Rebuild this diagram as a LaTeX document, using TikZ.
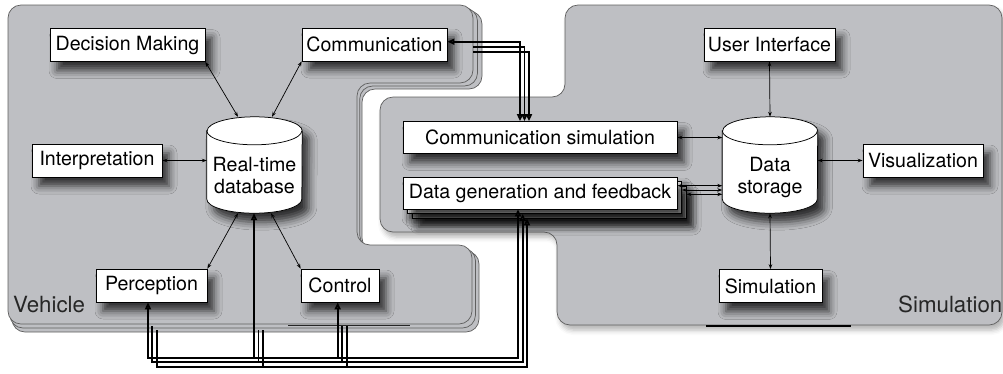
\documentclass[tikz,border=0pt]{standalone}
\usepackage{fontspec}
\setmainfont{TeX Gyre Heros}
\usetikzlibrary{arrows.meta,shadows.blur,calc}
\definecolor{regfill}{RGB}{190,191,195}
\definecolor{regline}{RGB}{95,95,95}
\newcommand\boxfont{\fontsize{19.6}{21.7}\selectfont}
\newcommand\labfont{\fontsize{22.3}{26}\selectfont}
\tikzset{
  region/.style={fill=regfill, draw=regline, line width=0.7pt, rounded corners=13pt},
  boxshadow/.style={blur shadow={shadow xshift=7pt, shadow yshift=-9pt, shadow blur radius=8pt, shadow opacity=75}},
  box/.style={draw=black, line width=0.75pt, fill=white, minimum height=33pt, inner sep=0pt,
    font=\boxfont, boxshadow},
  cylbody/.style={minimum width=95pt, minimum height=96pt, inner sep=0pt},
  cyltext/.style={font=\boxfont, align=center, inner sep=0pt},
  cylshape/.style={fill=white, draw=black, line width=0.75pt, boxshadow},
  link/.style={line width=0.7pt, {Stealth[length=5pt,width=3.6pt]}-{Stealth[length=5pt,width=3.6pt]}},
  bus/.style={line width=1.7pt},
  busboth/.style={bus, {Triangle[length=7pt,width=6pt]}-{Triangle[length=7pt,width=6pt]}},
  busend/.style={bus, -{Triangle[length=7pt,width=6pt]}},
  reglabel/.style={font=\labfont, text=black!85, inner sep=0pt}
}
\newcommand\drawcyl[1]{%
  \draw[cylshape] ([yshift=-14pt]#1.north west) -- ([yshift=14pt]#1.south west)
    arc[start angle=180,end angle=360,x radius=47.5pt,y radius=14pt]
    -- ([yshift=-14pt]#1.north east)
    arc[start angle=0,end angle=180,x radius=47.5pt,y radius=14pt] -- cycle;
  \draw[line width=0.75pt] ([yshift=-14pt]#1.north west)
    arc[start angle=180,end angle=360,x radius=47.5pt,y radius=14pt];}
\begin{document}
\begin{tikzpicture}[x=1pt,y=-1pt]
\useasboundingbox (0,0) rectangle (1003,373);

% ---------- vehicle region (three stacked layers) ----------
\path[region] (100,11) -- (482,11) -- (482,89) -- (362,89) -- (362,251) -- (479,251) -- (479,332) -- (12,332) -- (12,11) -- cycle;
\path[region] (100,8) -- (477.5,8) -- (477.5,86) -- (359.7,86) -- (359.7,248) -- (475.5,248) -- (475.5,328) -- (10,328) -- (10,8) -- cycle;
\path[region] (100,5) -- (473,5) -- (473,83) -- (357,83) -- (357,245) -- (472,245) -- (472,324) -- (8,324) -- (8,5) -- cycle;

% ---------- simulation region ----------
\path[region, blur shadow={shadow xshift=3pt, shadow yshift=-5pt, shadow blur radius=5pt, shadow opacity=30}]
  (700,5) -- (1002,5) -- (1002,325) -- (557,325) -- (557,232) -- (380,232) -- (380,97) -- (565,97) -- (565,5) -- cycle;

\draw[line width=1pt, black!85] (288,325.5) -- (410,325.5);
\draw[line width=1.6pt, black] (706,326) -- (851,326);

\node[reglabel, anchor=base west] (vehlabel) at (13,312) {Vehicle};
\node[reglabel, anchor=base east] (simlabel) at (1002.5,312) {Simulation};

% ---------- vehicle nodes ----------
\node[box, minimum width=155pt] (dm) at (127.5,45) {Decision Making};
\node[box, minimum width=145pt] (comm) at (374.5,44.5) {Communication};
\node[box, minimum width=130pt] (interp) at (97,160.5) {Interpretation};
\node[box, minimum width=111pt] (perc) at (151.5,285.5) {Perception};
\node[box, minimum width=78pt] (ctrl) at (340,285.5) {Control};
\node[cylbody] (db) at (254.5,165) {};
\drawcyl{db}
\node[cyltext] (dbtxt) at (254.5,175.5) {Real-time\\database};

% ---------- simulation nodes ----------
\node[box, minimum width=274pt, minimum height=32pt] (commsim) at (540,137.5) {Communication simulation};
\node[box, minimum width=274pt, minimum height=32pt] (dg3) at (549,202) {};
\node[box, minimum width=274pt, minimum height=32pt] (dg2) at (544.5,197.5) {};
\node[box, minimum width=274pt, minimum height=32pt] (dg1) at (540,193) {Data generation and feedback};
\node[box, minimum width=131pt] (ui) at (769.5,44.5) {User Interface};
\node[box, minimum width=120pt] (vis) at (923,160.5) {Visualization};
\node[box, minimum width=103pt] (sim) at (770.5,286) {Simulation};
\node[cylbody] (ds) at (770,165) {};
\drawcyl{ds}
\node[cyltext] (dstxt) at (770,177.5) {Data\\storage};

% ---------- thin links ----------
\draw[link] (dm.south east) -- ([xshift=-16.5pt]db.north);
\draw[link] (comm.south west) -- ([xshift=17.5pt]db.north);
\draw[link] (interp.east) -- (db.west |- interp.east);
\draw[link] (perc.north east) -- ([xshift=-16.5pt]db.south);
\draw[link] (ctrl.north west) -- ([xshift=16.5pt]db.south);
\draw[link] (commsim.east) -- (ds.west |- commsim.east);
\draw[link] (ui.south) -- (ds.north);
\draw[link] (ds.east |- vis.west) -- (vis.west);
\draw[link] (ds.south) -- (sim.north);
\coordinate (g1) at ([yshift=7.3pt]dg1.east);
\coordinate (g2) at ([yshift=7.5pt]dg2.east);
\coordinate (g3) at ([yshift=7.7pt]dg3.east);
\draw[link] (g1) -- (ds.west |- g1);
\draw[link] (g2) -- (ds.west |- g2);
\draw[link] (g3) -- (ds.west |- g3);

% ---------- communication bus ----------
\coordinate (vr) at (473,0);
\coordinate (k1) at (520,41.7);
\coordinate (k2) at (524.5,46.7);
\coordinate (k3) at (529,51.7);
\draw[busboth] (comm.east |- k1) -- (k1) -- (k1 |- commsim.north);
\draw[busend] (vr |- k2) -- (k2) -- (k2 |- commsim.north);
\draw[busend] (vr |- k3) -- (k3) -- (k3 |- commsim.north);

% ---------- bottom bus ----------
\coordinate (e2) at (0,326);
\coordinate (e3) at (0,330);
\coordinate (p1) at (148,357.7);   \coordinate (q1) at (518,357.7);
\coordinate (d1) at (254,357.7);   \coordinate (c1) at (337.7,357.7);
\coordinate (p2) at (152.3,362.3); \coordinate (q2) at (522.7,362.3);
\coordinate (d2) at (258.5,362.3); \coordinate (c2) at (342.2,362.3);
\coordinate (p3) at (156.7,366.7); \coordinate (q3) at (527,366.7);
\coordinate (d3) at (263,366.7);   \coordinate (c3) at (346.7,366.7);
\draw[busboth] (p1 |- perc.south) -- (p1) -- (q1) -- (q1 |- dg1.south);
\draw[busend] (d1) -- (d1 |- db.south);
\draw[busend] (c1) -- (c1 |- ctrl.south);
\draw[busend] (p2 |- e2) -- (p2) -- (q2) -- (q2 |- dg2.south);
\draw[bus] (d2) -- (d2 |- e3);
\draw[bus] (c2) -- (c2 |- e2);
\draw[busend] (p3 |- e3) -- (p3) -- (q3) -- (q3 |- dg3.south);
\draw[bus] (d3) -- (d3 |- e3);
\draw[bus] (c3) -- (c3 |- e2);
\end{tikzpicture}
\end{document}
